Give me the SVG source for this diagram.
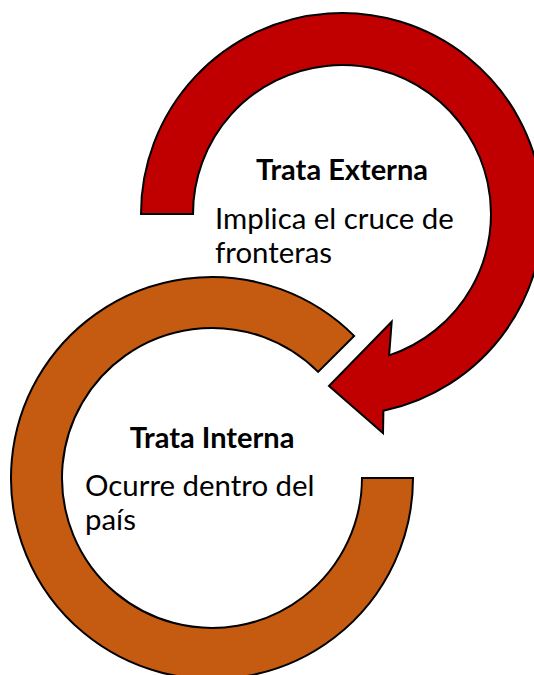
<svg xmlns="http://www.w3.org/2000/svg" width="534" height="675" viewBox="0 0 534 675">
<style>
.ring{stroke:#000;stroke-width:2;stroke-linejoin:miter}
.title{font-family:Lato,"Liberation Sans",sans-serif;font-weight:bold;font-size:29px;fill:#000;text-anchor:middle}
.body{font-family:Lato,"Liberation Sans",sans-serif;font-size:29.4px;fill:#000}
</style>
<rect width="534" height="675" fill="#fff"/>
<g id="connectors"></g>
<g id="interna">
<path class="ring" fill="#C55A11" d="M413,478 A201,201 0 1 1 354.1,335.9 L318.1,371.9 A150,150 0 1 0 362,478 Z"/>
<text class="title" x="212" y="448">Trata Interna</text>
<text class="body" x="85" y="496">Ocurre dentro del</text>
<text class="body" x="85" y="530">país</text>
</g>
<g id="externa">
<path class="ring" fill="#C00000" d="M141,214 A201,201 0 1 1 383.4,410.7 L383,433 L329,386 L391.7,321.7 L389.1,355.4 A149,149 0 1 0 193,214 Z"/>
<text class="title" x="342" y="180">Trata Externa</text>
<text class="body" x="215" y="229">Implica el cruce de</text>
<text class="body" x="215" y="263">fronteras</text>
</g>
</svg>
